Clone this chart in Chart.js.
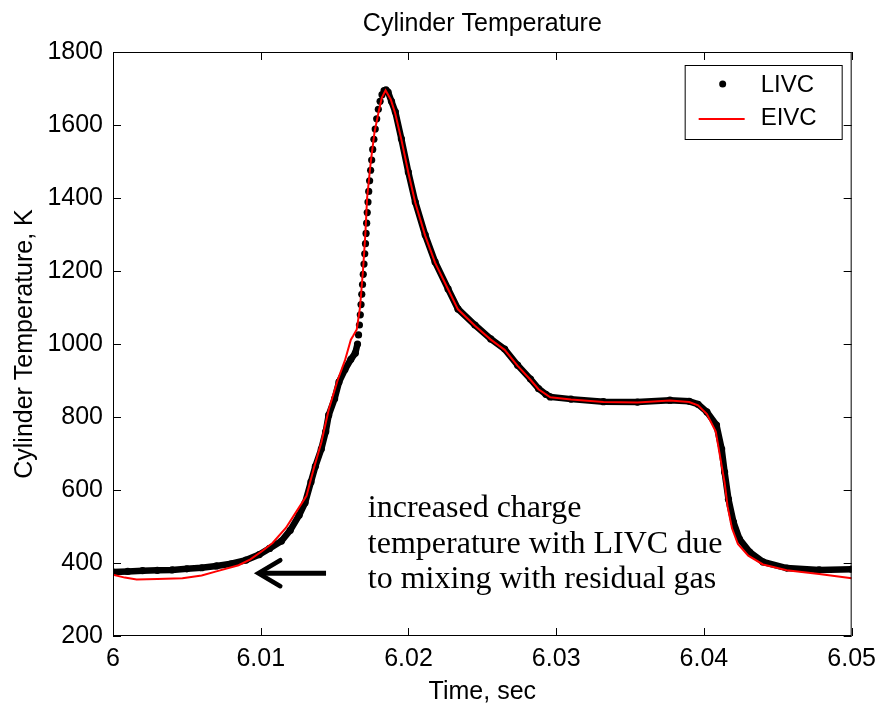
<!DOCTYPE html>
<html>
<head>
<meta charset="utf-8">
<title>Cylinder Temperature</title>
<script src="https://cdn.jsdelivr.net/npm/chart.js@4.4.0/dist/chart.umd.min.js"></script>
<style>
  html, body { margin: 0; padding: 0; background: #fff; }
  #wrap { width: 884px; height: 707px; }
</style>
</head>
<body>
<div id="wrap"><canvas id="tempChart" width="884" height="707"></canvas></div>
<script>
// LIVC (black dots) - time in s, temperature in K
const livcTime = [
  6.0000, 6.0010, 6.0020, 6.0030, 6.0040, 6.0050, 6.0060, 6.0070, 6.0080, 6.0090,
  6.0099, 6.0106, 6.0114, 6.0120, 6.0126, 6.0130, 6.0134, 6.0137, 6.0141, 6.0144,
  6.0146, 6.0150, 6.0153, 6.0157, 6.0161, 6.0164, 6.01655,
  6.01662, 6.01668, 6.01674, 6.01679, 6.01684, 6.01689, 6.01694, 6.01699, 6.01704,
  6.01709, 6.01713, 6.01717, 6.01721, 6.01726, 6.01731, 6.01737, 6.01744, 6.01751,
  6.01758, 6.01766, 6.01775, 6.01785, 6.01796, 6.01808, 6.01821, 6.01835, 6.01848,
  6.01862, 6.01885, 6.01911, 6.01952, 6.01999, 6.02046, 6.02113, 6.0218, 6.02268,
  6.02335, 6.0245, 6.02557, 6.02651, 6.02739, 6.02826, 6.0288, 6.0293, 6.0296,
  6.0310, 6.0332, 6.0355, 6.0377, 6.0390, 6.0396, 6.0402, 6.04085, 6.0412, 6.0414,
  6.04166, 6.0420, 6.0424, 6.0431, 6.0440, 6.0456, 6.0478, 6.0500
];
const livcTemp = [
  375, 377, 379, 380, 381, 384, 387, 392, 398, 408,
  423, 440, 460, 490, 531, 565, 622, 665, 712, 760,
  805, 850, 896, 930, 958, 975, 1000,
  1025, 1052, 1080, 1108, 1136, 1163, 1191, 1219, 1247,
  1275, 1303, 1331, 1360, 1389, 1418, 1447, 1476, 1504,
  1533, 1561, 1589, 1617, 1643, 1665, 1683, 1694, 1696,
  1690, 1665, 1636, 1562, 1471, 1389, 1299, 1225, 1151,
  1096, 1052, 1014, 986, 942, 904, 878, 862, 855,
  849, 842, 841, 846, 843, 835, 814, 778, 712, 649,
  575, 512, 466, 430, 403, 386, 381, 383
];

// EIVC (red line)
const eivcTime = [
  6.0000, 6.0008, 6.0016, 6.0030, 6.0047, 6.0060, 6.0070, 6.0085, 6.0093, 6.0101,
  6.0108, 6.0117, 6.0124, 6.0131, 6.0136, 6.0141, 6.0146, 6.0152, 6.0157, 6.0161,
  6.01625, 6.0165, 6.01672, 6.01692, 6.01708, 6.0172, 6.01745, 6.0177, 6.0180, 6.0182,
  6.01845, 6.0188, 6.0191, 6.01952, 6.0200, 6.02046, 6.02113, 6.0218, 6.02268, 6.02335,
  6.0245, 6.02557, 6.02651, 6.02739, 6.02826, 6.0288, 6.0296, 6.0310, 6.0332, 6.0355,
  6.0377, 6.0390, 6.0396, 6.0402, 6.0408, 6.0411, 6.0414, 6.0416, 6.0419, 6.0423,
  6.0430, 6.0440, 6.0456, 6.0478, 6.0500
];
const eivcTemp = [
  368, 360, 355, 356, 358, 366, 377, 394, 410, 433,
  455, 496, 540, 584, 660, 730, 820, 900, 955, 1012,
  1022, 1040, 1100, 1200, 1300, 1400, 1500, 1580, 1640, 1675,
  1695, 1670, 1632, 1560, 1468, 1387, 1297, 1223, 1150, 1095,
  1050, 1012, 984, 940, 902, 876, 854, 848, 841, 840,
  845, 841, 832, 808, 760, 690, 620, 555, 495, 452,
  420, 396, 380, 370, 358
];

const xTicks = [6, 6.01, 6.02, 6.03, 6.04, 6.05];
const yTicks = [200, 400, 600, 800, 1000, 1200, 1400, 1600, 1800];
const seriesNames = ['LIVC', 'EIVC'];
const chartTitle = 'Cylinder Temperature';
const noteLines = ['increased charge', 'temperature with LIVC due', 'to mixing with residual gas'];

const sans = "'Liberation Sans', Arial, Helvetica, sans-serif";
const serif = "'Liberation Serif', 'Times New Roman', serif";

// the dots on the steep rise are drawn separately, no line between them
const riseStart = 6.01655, riseEnd = 6.01849;

// box with inward ticks on all four sides
const matlabFrame = {
  id: 'matlabFrame',
  afterDatasetsDraw(chart) {
    const { ctx, chartArea: a, scales: { x, y } } = chart;
    ctx.save();
    ctx.strokeStyle = '#000';
    ctx.lineWidth = 1;
    ctx.strokeRect(a.left + 0.5, a.top + 0.5, a.right - a.left - 1, a.bottom - a.top - 1);
    ctx.beginPath();
    x.ticks.forEach(t => {
      const px = Math.round(x.getPixelForValue(t.value)) + 0.5;
      ctx.moveTo(px, a.bottom); ctx.lineTo(px, a.bottom - 8);
      ctx.moveTo(px, a.top); ctx.lineTo(px, a.top + 8);
    });
    y.ticks.forEach(t => {
      const py = Math.round(y.getPixelForValue(t.value)) + 0.5;
      ctx.moveTo(a.left, py); ctx.lineTo(a.left + 8, py);
      ctx.moveTo(a.right, py); ctx.lineTo(a.right - 8, py);
    });
    ctx.stroke();
    ctx.restore();
  }
};

// title over the axes, legend box in the top right corner, arrow and note
const extras = {
  id: 'extras',
  afterDraw(chart) {
    const { ctx, chartArea: a, scales: { x, y } } = chart;
    ctx.save();

    // title centred on the axes
    ctx.fillStyle = '#000';
    ctx.font = '25px ' + sans;
    ctx.textAlign = 'center';
    ctx.textBaseline = 'middle';
    ctx.fillText(chartTitle, (a.left + a.right) / 2, 24);

    // legend
    const bx = a.right - 167, by = a.top + 13, bw = 157, bh = 74;
    ctx.fillStyle = '#fff';
    ctx.fillRect(bx, by, bw, bh);
    ctx.strokeStyle = '#000';
    ctx.lineWidth = 1;
    ctx.strokeRect(bx + 0.5, by + 0.5, bw, bh);
    ctx.fillStyle = '#000';
    ctx.beginPath();
    ctx.arc(bx + 38, by + 19, 3.5, 0, Math.PI * 2);
    ctx.fill();
    ctx.strokeStyle = '#ff0000';
    ctx.lineWidth = 2;
    ctx.beginPath();
    ctx.moveTo(bx + 14, by + 54); ctx.lineTo(bx + 60, by + 54);
    ctx.stroke();
    ctx.font = '24px ' + sans;
    ctx.textAlign = 'left';
    ctx.textBaseline = 'middle';
    ctx.fillText(seriesNames[0], bx + 76, by + 20);
    ctx.fillText(seriesNames[1], bx + 76, by + 53);

    // arrow
    const ay = y.getPixelForValue(372);
    const tipX = x.getPixelForValue(6.0097);
    const tailX = x.getPixelForValue(6.01442);
    ctx.strokeStyle = '#000';
    ctx.lineWidth = 5;
    ctx.lineCap = 'butt';
    ctx.beginPath();
    ctx.moveTo(tailX, ay); ctx.lineTo(tipX + 3, ay);
    ctx.stroke();
    ctx.lineCap = 'round';
    ctx.lineWidth = 4.5;
    ctx.beginPath();
    ctx.moveTo(tipX + 24, ay - 13); ctx.lineTo(tipX + 2, ay); ctx.lineTo(tipX + 24, ay + 13);
    ctx.stroke();

    // note
    ctx.font = '32px ' + serif;
    ctx.textBaseline = 'alphabetic';
    ctx.textAlign = 'left';
    const tx = x.getPixelForValue(6.01725);
    const ty = y.getPixelForValue(526);
    noteLines.forEach((line, i) => ctx.fillText(line, tx, ty + i * 35.5));

    ctx.restore();
  }
};

const ctx = document.getElementById('tempChart').getContext('2d');
const tempChart = new Chart(ctx, {
  type: 'line',
  data: {
    datasets: [
      {
        label: seriesNames[1],
        data: eivcTime.map((t, i) => ({ x: t, y: eivcTemp[i] })),
        borderColor: '#ff0000',
        borderWidth: 2,
        pointRadius: 0,
        tension: 0,
        order: 0
      },
      {
        label: seriesNames[0],
        data: livcTime.map((t, i) => ({ x: t, y: livcTemp[i] })),
        borderColor: '#000',
        backgroundColor: '#000',
        borderWidth: 6.5,
        pointRadius: 3.6,
        pointBorderWidth: 0,
        pointBackgroundColor: '#000',
        tension: 0,
        order: 1,
        segment: {
          borderColor: c => (c.p0.parsed.x >= riseStart && c.p1.parsed.x <= riseEnd) ? 'rgba(0,0,0,0)' : undefined
        }
      }
    ]
  },
  options: {
    responsive: false,
    animation: false,
    events: [],
    layout: { padding: { left: 0, right: 29, top: 52, bottom: 0 } },
    plugins: {
      legend: { display: false },
      tooltip: { enabled: false },
      title: { display: false }
    },
    scales: {
      x: {
        type: 'linear',
        min: 6,
        max: 6.05,
        afterFit: s => { s.height = 71; },
        afterBuildTicks: s => { s.ticks = xTicks.map(v => ({ value: v })); },
        grid: { display: false, drawTicks: false },
        border: { display: false },
        ticks: {
          color: '#000',
          padding: 8,
          maxRotation: 0,
          autoSkip: false,
          font: { family: sans, size: 25 },
          callback: v => String(+Number(v).toFixed(2))
        },
        title: {
          display: true,
          text: 'Time, sec',
          color: '#000',
          font: { family: sans, size: 25 },
          padding: { top: 0, bottom: 0 }
        }
      },
      y: {
        min: 200,
        max: 1800,
        afterFit: s => { s.width = 113; },
        afterBuildTicks: s => { s.ticks = yTicks.map(v => ({ value: v })); },
        grid: { display: false, drawTicks: false },
        border: { display: false },
        ticks: {
          color: '#000',
          padding: 10,
          autoSkip: false,
          font: { family: sans, size: 25 },
          callback: v => String(v)
        },
        title: {
          display: true,
          text: 'Cylinder Temperature, K',
          color: '#000',
          font: { family: sans, size: 25 },
          padding: { top: 10, bottom: 0 }
        }
      }
    }
  },
  plugins: [matlabFrame, extras]
});
</script>
</body>
</html>
